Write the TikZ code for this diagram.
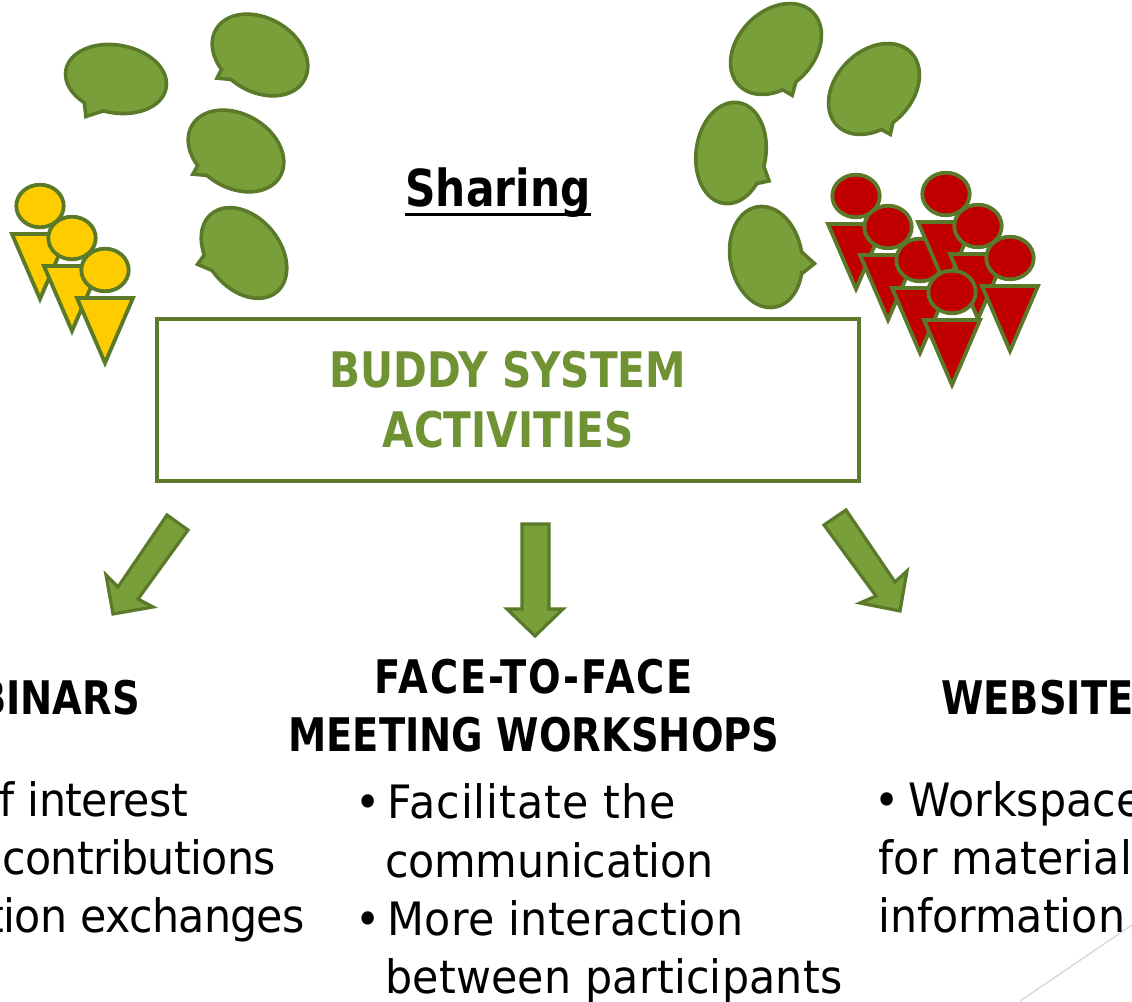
\documentclass[tikz,border=0pt]{standalone}
\usepackage{fontspec}
\setmainfont{DejaVu Sans}[FakeStretch=0.93,BoldFeatures={FakeStretch=0.83}]
\newcommand{\lsp}[2]{{\addfontfeature{LetterSpace=#1}#2}}
\definecolor{gfill}{HTML}{789F3A}
\definecolor{gline}{HTML}{5A7A2A}
\definecolor{gtext}{HTML}{6F9232}
\definecolor{yfill}{HTML}{FFCC00}
\definecolor{rfill}{HTML}{C00000}
\definecolor{slide}{HTML}{D9D9D9}
\tikzset{
  x=1pt,y=1pt,
  outline/.style={draw=gline,line width=3.8pt,line join=miter},
  blockarrow/.style={outline,fill=gfill,line width=3.2pt},
  body/.style={anchor=base west,inner sep=0pt,font=\fontsize{46}{58}\selectfont},
  bodyr/.style={body,anchor=base east},
  head/.style={anchor=base,inner sep=0pt,font=\fontsize{46.3}{58}\selectfont\bfseries},
}
% cx cy rx ry rot | g1x g1y tipx tipy g2x g2y  (image coordinates)
\newcommand{\speech}[5]{\def\spA{#1}\def\spB{#2}\def\spC{#3-2}\def\spD{#4-2}\def\spE{#5}\speechb}
\newcommand{\speechb}[6]{%
  \draw[draw=gline,line width=7.4pt,line join=miter,miter limit=10]
     (#1,1001-#2) -- (#3,1001-#4) -- (#5,1001-#6) -- cycle;
  \draw[draw=gline,line width=7.4pt] (\spA,1001-\spB) ellipse[x radius=\spC,y radius=\spD,rotate=\spE];
  \fill[gfill] (#1,1001-#2) -- (#3,1001-#4) -- (#5,1001-#6) -- cycle;
  \fill[gfill] (\spA,1001-\spB) ellipse[x radius=\spC,y radius=\spD,rotate=\spE];
  \fill[gfill] (#1,1001-#2) -- (\spA,1001-\spB) -- (#5,1001-#6) -- cycle;
}
\newcommand{\person}[3]{%
  \draw[outline,fill=#3] (#1-28,1001-#2-28) -- (#1+28,1001-#2-28) -- (#1,1001-#2-93) -- cycle;
  \draw[outline,fill=#3] (#1,1001-#2) ellipse[x radius=23.7,y radius=21.3];
}
\begin{document}
\begin{tikzpicture}
\useasboundingbox (0,0) rectangle (1132,1001);
\clip (0,0) rectangle (1132,1001);
\coordinate (slideA) at (1020,0);
\coordinate (slideB) at (1132,76);
\draw[slide,line width=1.5pt] (slideA) -- (slideB);

\speech{116}{79}{51}{34}{-10}{86}{100}{87.5}{114}{103}{109}
\speech{260}{55}{51}{37}{-30}{226}{65}{220}{76.5}{236}{78}
\speech{236}{151}{51}{37}{-30}{202}{162}{196}{172.5}{212}{174}
\speech{244}{253}{51}{36}{-50}{208}{253}{200.5}{263.5}{213.5}{269}
\speech{776}{49}{52}{38}{45}{780}{86}{791}{92.5}{795}{78}
\speech{874}{89}{52}{38}{45}{879}{126}{889}{131.5}{892}{118}
\speech{731}{153}{51}{35}{82}{761}{164}{766.5}{179.5}{755}{182}
\speech{766}{257}{51}{36}{100}{800}{253}{811.5}{263.5}{802}{271}

\person{40}{206}{yfill}
\person{72}{238}{yfill}
\person{105}{270}{yfill}

\person{856}{196}{rfill}
\person{888}{227}{rfill}
\person{920}{260}{rfill}
\person{946}{194}{rfill}
\person{978}{226}{rfill}
\person{1010}{258}{rfill}
\person{952}{292}{rfill}

\node[anchor=base,inner sep=0pt,font=\fontsize{51}{60}\selectfont\bfseries] (sharing) at (498,1001-207) {Sharing};
\draw[line width=3pt] ([yshift=-8pt]sharing.base west) -- ([yshift=-8pt]sharing.base east);
\node[draw=gline,line width=3.3pt,minimum width=702pt,minimum height=162pt,inner sep=0pt,align=center,
      text=gtext,font=\fontsize{49}{60}\selectfont\bfseries] (box) at (508,1001-400) {BUDDY SYSTEM\\ACTIVITIES};

\draw[blockarrow] (167,1001-515) -- (188,1001-530) -- (138,1001-599) -- (153,1001-607) -- (113,1001-614) -- (106,1001-575) -- (118,1001-587) -- cycle;
\draw[blockarrow] (522,1001-524) -- (549,1001-524) -- (549,1001-609) -- (563,1001-609) -- (535,1001-636) -- (507,1001-609) -- (522,1001-609) -- cycle;
\draw[blockarrow] (846,1001-510) -- (895,1001-582) -- (907,1001-571) -- (900,1001-611) -- (860,1001-603) -- (876,1001-596) -- (824,1001-525) -- cycle;

\node[head,anchor=base east] (webinars) at (140,1001-715) {BINARS};
\node[head] (face1) at (534,1001-694) {\lsp{4}{FACE-TO-FACE}};
\node[head] (face2) at (534,1001-752) {MEETING WORKSHOPS};
\node[head,anchor=base west] (website) at (941,1001-715) {WEBSITE};

\node[bodyr] (l1) at (188,1001-817) {\lsp{-1.3}{f interest}};
\node[bodyr] (l2) at (276,1001-875) {\lsp{-1.5}{contributions}};
\node[bodyr] (l3) at (305,1001-933) {\lsp{-1.5}{tion exchanges}};

\node[body] (m1) at (355,1001-819) {•\hspace{7pt}\lsp{2.3}{Facilitate the}};
\node[body] (m2) at (385,1001-878) {\lsp{-0.5}{communication}};
\node[body] (m3) at (355,1001-936) {•\hspace{7pt}\lsp{0.8}{More interaction}};
\node[body] (m4) at (385,1001-993) {\lsp{0.5}{between participants}};

\node[body] (r1) at (874,1001-817) {•\hspace{9pt}Workspace};
\node[body] (r2) at (878,1001-875) {\lsp{0.7}{for material}};
\node[body] (r3) at (878,1001-933) {information};
\end{tikzpicture}
\end{document}
